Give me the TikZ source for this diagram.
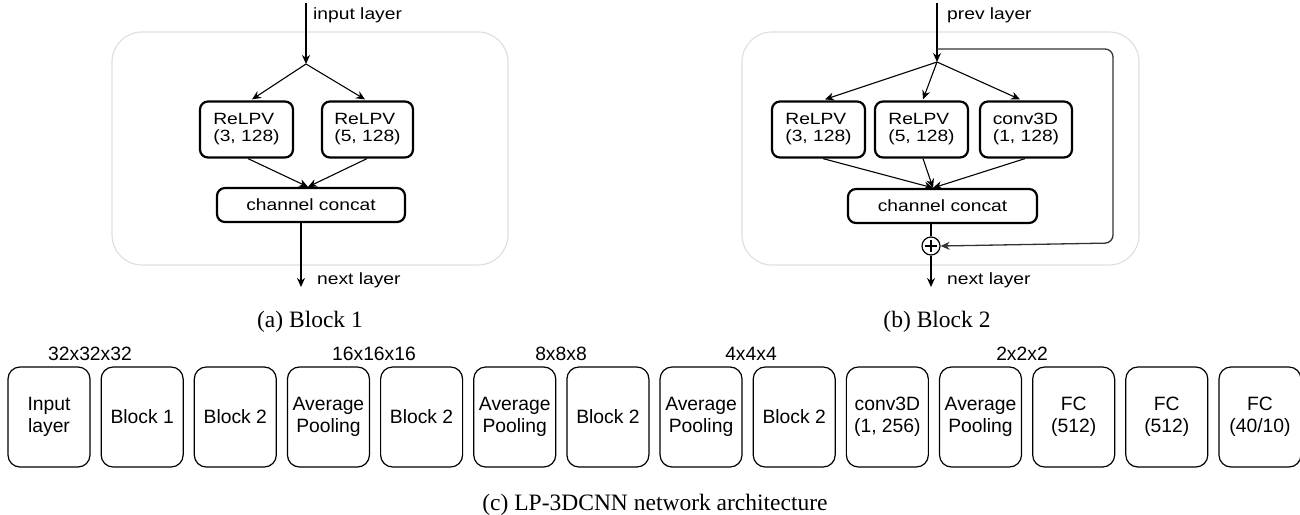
\documentclass[tikz,border=0pt]{standalone}
\usepackage{graphicx}
\usepackage{fontspec}
\setmainfont{Liberation Serif}
\newfontfamily\arialf{Liberation Sans}
\usetikzlibrary{arrows.meta,calc}
\newcommand{\hs}[1]{\scalebox{1.18}[1]{#1}}
\newcommand{\twol}[2]{\hs{\begin{tabular}{@{}l@{}}#1\\#2\end{tabular}}}
\tikzset{
  bg/.style={draw=black!13, line width=1.1pt, rounded corners=30pt, inner sep=0pt},
  tbox/.style={draw, line width=2.2pt, rounded corners=8pt, inner sep=0pt, minimum height=56pt,
    font=\arialf\fontsize{16.3}{17}\selectfont},
  lbl/.style={font=\arialf\fontsize{16.3}{17}\selectfont, inner sep=0pt, anchor=west},
  bbox/.style={draw, line width=1.2pt, rounded corners=12pt, minimum width=82pt, minimum height=100pt,
    inner sep=0pt, align=center, font=\arialf\fontsize{19.3}{22}\selectfont},
  szlbl/.style={font=\arialf\fontsize{19.3}{22}\selectfont, inner sep=0pt},
  captxt/.style={font=\fontsize{23.5}{26}\selectfont, inner sep=0pt},
  arr/.style={-{Stealth[length=9pt,width=8pt]}, line width=1.1pt},
}
\begin{document}
\begin{tikzpicture}[x=1pt,y=-1pt]
\useasboundingbox (0,0) rectangle (1300,514);
% ---------- Block 1 ----------
\node[bg, minimum width=396pt, minimum height=233pt] (bg1) at (310,148.5) {};
\coordinate (in1) at (306,3);
\coordinate (j1) at (306,64);
\node[tbox, minimum width=93pt] (a1) at (246.5,129.5) {\twol{ReLPV}{(3, 128)}};
\node[tbox, minimum width=91pt] (a2) at (367.5,129.5) {\twol{ReLPV}{(5, 128)}};
\node[tbox, minimum width=188pt, minimum height=34pt] (cc1) at (311,205) {\hs{channel concat}};
\coordinate (out1) at (301,287);
\node[lbl] (il) at (313,15) {\hs{input layer}};
\node[lbl] (nl1) at (317,280) {\hs{next layer}};
\draw[arr, line width=1.5pt] (in1) -- (j1);
\draw[arr] (j1) -- ($(a1.north)+(5.5,-1)$);
\draw[arr] (j1) -- ($(a2.north)+(-2.5,-1)$);
\draw[arr] ($(a1.south)+(1.5,0)$) -- ($(cc1.north)+(-3,0)$);
\draw[arr] ($(a2.south)+(-0.5,0)$) -- ($(cc1.north)+(-3,0)$);
\draw[arr, line width=1.5pt] ($(cc1.south)+(-10,0)$) -- (out1);
\node[captxt] (capa) at (310,322) {(a) Block 1};
% ---------- Block 2 ----------
\node[bg, minimum width=397pt, minimum height=233pt] (bg2) at (940.5,148.5) {};
\coordinate (in2) at (937,3);
\coordinate (j2) at (937,62);
\coordinate (sk) at (937,49);
\node[tbox, minimum width=93pt] (c1) at (818.5,129.5) {\twol{ReLPV}{(3, 128)}};
\node[tbox, minimum width=93pt] (c2) at (921.5,129.5) {\twol{ReLPV}{(5, 128)}};
\node[tbox, minimum width=92pt] (c3) at (1026,129.5) {\twol{conv3D}{(1, 128)}};
\node[tbox, minimum width=189pt, minimum height=34pt] (cc2) at (942.5,206) {\hs{channel concat}};
\node[draw, circle, line width=1.2pt, minimum size=18pt, inner sep=0pt] (plus) at (931,246) {};
\draw[line width=1.3pt] ($(plus.center)+(-6,0)$) -- ($(plus.center)+(6,0)$)
  ($(plus.center)+(0,-6)$) -- ($(plus.center)+(0,6)$);
\coordinate (out2) at (931,287);
\node[lbl] (pl) at (947,15) {\hs{prev layer}};
\node[lbl] (nl2) at (947,280) {\hs{next layer}};
\draw[arr, line width=1.5pt] (in2) -- (j2);
\draw[arr] (j2) -- ($(c1.north)+(6.5,-1)$);
\draw[arr] (j2) -- ($(c2.north)+(1.5,-1)$);
\draw[arr] (j2) -- ($(c3.north)+(-6,-1)$);
\draw[arr] ($(c1.south)+(4.5,0)$) -- ($(cc2.north)+(-9.5,0)$);
\draw[arr] ($(c2.south)+(1.5,0)$) -- ($(cc2.north)+(-9.5,0)$);
\draw[arr] ($(c3.south)+(-1,0)$) -- ($(cc2.north)+(-9.5,0)$);
\draw[line width=1.1pt] ($(cc2.south)+(-11.5,0)$) -- (plus.north);
\draw[arr, line width=1.5pt] (plus.south) -- (out2);
\draw[arr, line width=1.3pt, draw=black!80, rounded corners=8pt] (sk) -- (1113,49) -- (1113,243) -- (plus.east);
\node[captxt] (capb) at (937,322) {(b) Block 2};
% ---------- Network ----------
\foreach \t [count=\i] in {{Input\\layer},{Block 1},{Block 2},{Average\\Pooling},{Block 2},{Average\\Pooling},{Block 2},{Average\\Pooling},{Block 2},{conv3D\\(1, 256)},{Average\\Pooling},{FC\\(512)},{FC\\(512)},{FC\\(40/10)}}
  \node[bbox] (b\i) at ({49+93.15*(\i-1)},417) {\t};
\node[szlbl] (s1) at (90,354) {32x32x32};
\node[szlbl] (s2) at (374,354) {16x16x16};
\node[szlbl] (s3) at (561,354) {8x8x8};
\node[szlbl] (s4) at (751,354) {4x4x4};
\node[szlbl] (s5) at (1022,354) {2x2x2};
\node[captxt] (capc) at (655,505) {(c) LP-3DCNN network architecture};
\end{tikzpicture}
\end{document}
